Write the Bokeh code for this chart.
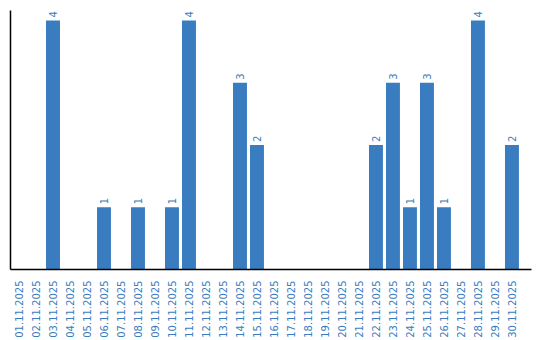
import math
from bokeh.plotting import figure
from bokeh.models import ColumnDataSource, Range1d, FixedTicker
from bokeh.embed import file_html
from bokeh.resources import INLINE
from bokeh.core.properties import value

dates = [f"{d:02d}.11.2025" for d in range(1, 31)]
counts = [0, 0, 4, 0, 0, 1, 0, 1, 0, 1,
          4, 0, 0, 3, 2, 0, 0, 0, 0, 0,
          0, 2, 3, 1, 3, 1, 0, 4, 0, 2]

BLUE = "#3a7cc0"
FONT = "DejaVu Sans"

xs = list(range(1, len(dates) + 1))
src = ColumnDataSource(dict(x=xs, top=counts))
lab_x = [x for x, c in zip(xs, counts) if c > 0]
lab_y = [c for c in counts if c > 0]
lab_t = [str(c) for c in lab_y]
lsrc = ColumnDataSource(dict(x=lab_x, y=lab_y, t=lab_t))

p = figure(width=540, height=340, output_backend="svg", toolbar_location=None,
           x_range=Range1d(0.5, 31.15), y_range=Range1d(0, 4.16),
           min_border_left=10, min_border_right=9, min_border_top=10, min_border_bottom=0)
p.outline_line_color = None
p.grid.visible = False
p.background_fill_color = "white"

p.vbar(x="x", top="top", width=0.82, source=src, color=BLUE, line_color=None)
p.text(x="x", y="y", text="t", source=lsrc, angle=math.pi / 2,
       text_align="left", text_baseline="middle", y_offset=-3, x_offset=0,
       text_color=BLUE, text_font=value(FONT), text_font_size="10px")

xa = p.xaxis[0]
xa.ticker = FixedTicker(ticks=xs)
xa.major_label_overrides = {x: d for x, d in zip(xs, dates)}
xa.major_label_orientation = math.pi / 2
xa.major_label_text_color = BLUE
xa.major_label_text_font = FONT
xa.major_label_text_font_size = "10px"
xa.major_label_standoff = 5
xa.major_tick_line_color = None
xa.minor_tick_line_color = None
xa.axis_line_color = "black"
xa.axis_line_width = 1.5

ya = p.yaxis[0]
ya.ticker = FixedTicker(ticks=[])
ya.major_label_text_font_size = "0px"
ya.major_tick_out = 0
ya.minor_tick_out = 0
ya.major_label_standoff = 0
ya.axis_line_color = "black"
ya.axis_line_width = 1.5

open("out.html", "w").write(file_html(p, INLINE))
